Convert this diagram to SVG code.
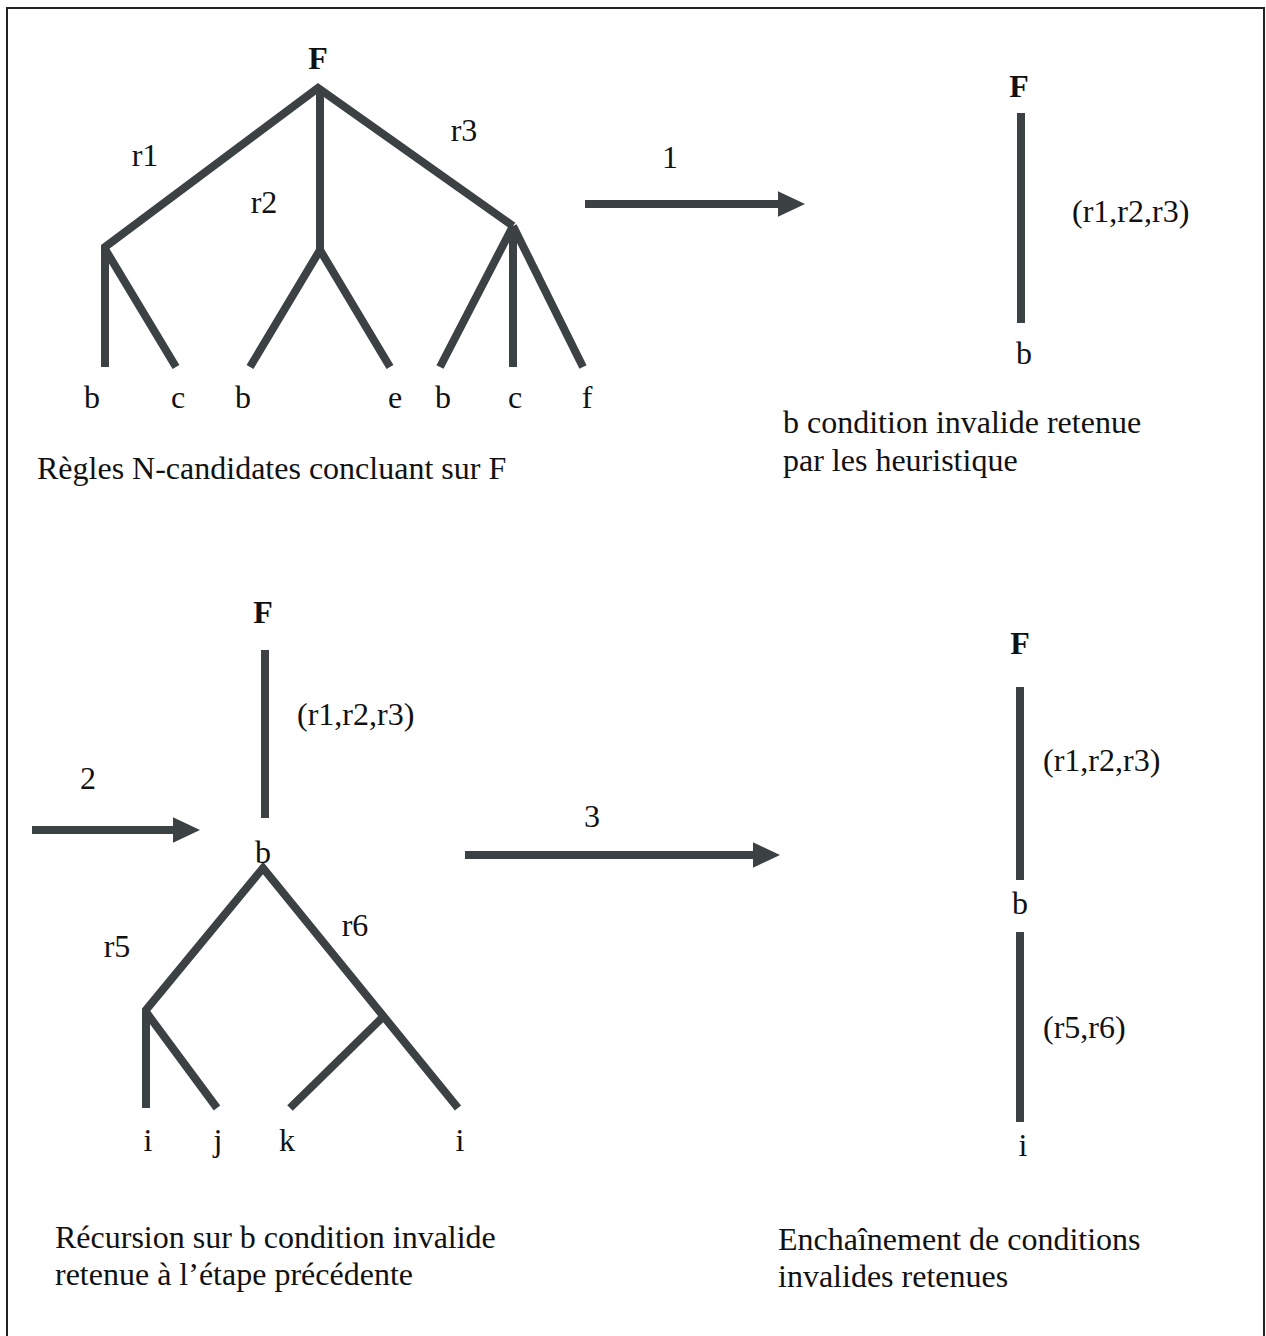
<svg xmlns="http://www.w3.org/2000/svg" width="1266" height="1336" viewBox="0 0 1266 1336">
<style>
.t{font-family:"Liberation Serif","Times New Roman",serif;font-size:32px;fill:#111}
.b{font-weight:bold}
.e{stroke:#3c4144;stroke-width:8;fill:none;stroke-linejoin:miter}
</style>
<defs>
<marker id="ah" markerWidth="3.4" markerHeight="3.2" refX="0" refY="1.6" orient="auto" markerUnits="strokeWidth">
<path d="M0,0 L3.4,1.6 L0,3.2 Z" fill="#3c4144"/>
</marker>
</defs>
<rect x="7" y="8" width="1257" height="1340" fill="#fff" stroke="#222" stroke-width="2"/>

<g id="connectors">
<!-- top tree -->
<polyline class="e" points="105,367 105,247 318,88 513,226"/>
<line class="e" x1="105" y1="249" x2="176" y2="367"/>
<line class="e" x1="320" y1="88" x2="320" y2="252"/>
<polyline class="e" points="250,367 320,250 390,367"/>
<line class="e" x1="513" y1="226" x2="440" y2="367"/>
<line class="e" x1="513" y1="226" x2="513" y2="367"/>
<line class="e" x1="513" y1="226" x2="583" y2="367"/>
<!-- arrow 1 -->
<line class="e" x1="585" y1="204" x2="778" y2="204" marker-end="url(#ah)"/>
<!-- top right -->
<line class="e" x1="1021" y1="113" x2="1021" y2="323"/>
<!-- bottom left -->
<line class="e" x1="32" y1="830" x2="173" y2="830" marker-end="url(#ah)"/>
<line class="e" x1="265" y1="650" x2="265" y2="818"/>
<polyline class="e" points="146,1108 146,1010 263,868 458,1108"/>
<line class="e" x1="146" y1="1012" x2="217" y2="1108"/>
<line class="e" x1="385" y1="1015" x2="290" y2="1108"/>
<!-- arrow 3 -->
<line class="e" x1="465" y1="855" x2="753" y2="855" marker-end="url(#ah)"/>
<!-- bottom right -->
<line class="e" x1="1020" y1="687" x2="1020" y2="880"/>
<line class="e" x1="1020" y1="932" x2="1020" y2="1122"/>
</g>

<g id="tree1">
<text class="t b" x="318" y="69" text-anchor="middle">F</text>
<text class="t" x="145" y="166" text-anchor="middle">r1</text>
<text class="t" x="264" y="213" text-anchor="middle">r2</text>
<text class="t" x="464" y="141" text-anchor="middle">r3</text>
<text class="t" x="92" y="408" text-anchor="middle">b</text>
<text class="t" x="178" y="408" text-anchor="middle">c</text>
<text class="t" x="243" y="408" text-anchor="middle">b</text>
<text class="t" x="395" y="408" text-anchor="middle">e</text>
<text class="t" x="443" y="408" text-anchor="middle">b</text>
<text class="t" x="515" y="408" text-anchor="middle">c</text>
<text class="t" x="587" y="408" text-anchor="middle">f</text>
<text class="t" x="37" y="479">Règles N-candidates concluant sur F</text>
</g>

<g id="label1"><text class="t" x="670" y="168" text-anchor="middle">1</text></g>

<g id="tree2">
<text class="t b" x="1019" y="97" text-anchor="middle">F</text>
<text class="t" x="1072" y="222">(r1,r2,r3)</text>
<text class="t" x="1024" y="364" text-anchor="middle">b</text>
<text class="t" x="783" y="433">b condition invalide retenue</text>
<text class="t" x="783" y="471">par les heuristique</text>
</g>

<g id="label2"><text class="t" x="88" y="789" text-anchor="middle">2</text></g>

<g id="tree3">
<text class="t b" x="263" y="623" text-anchor="middle">F</text>
<text class="t" x="297" y="725">(r1,r2,r3)</text>
<text class="t" x="263" y="863" text-anchor="middle">b</text>
<text class="t" x="117" y="957" text-anchor="middle">r5</text>
<text class="t" x="355" y="936" text-anchor="middle">r6</text>
<text class="t" x="148" y="1151" text-anchor="middle">i</text>
<text class="t" x="218" y="1151" text-anchor="middle">j</text>
<text class="t" x="287" y="1151" text-anchor="middle">k</text>
<text class="t" x="460" y="1151" text-anchor="middle">i</text>
<text class="t" x="55" y="1248">Récursion sur b condition invalide</text>
<text class="t" x="55" y="1285">retenue à l’étape précédente</text>
</g>

<g id="label3"><text class="t" x="592" y="827" text-anchor="middle">3</text></g>

<g id="tree4">
<text class="t b" x="1020" y="654" text-anchor="middle">F</text>
<text class="t" x="1043" y="771">(r1,r2,r3)</text>
<text class="t" x="1020" y="914" text-anchor="middle">b</text>
<text class="t" x="1043" y="1038">(r5,r6)</text>
<text class="t" x="1023" y="1156" text-anchor="middle">i</text>
<text class="t" x="778" y="1250">Enchaînement de conditions</text>
<text class="t" x="778" y="1287">invalides retenues</text>
</g>
</svg>
